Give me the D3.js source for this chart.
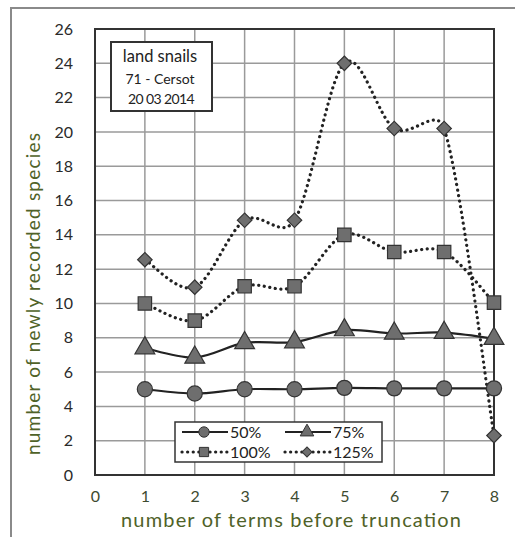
<!DOCTYPE html>
<html><head><meta charset="utf-8">
<script src="https://cdn.jsdelivr.net/npm/d3@7"></script>
<style>
html,body{margin:0;padding:0;background:#fff;}
svg{display:block;font-family:Lato,"Open Sans",sans-serif;}
</style></head>
<body>
<svg id="chart" width="515" height="537"></svg>
<script>
const xValues = [1,2,3,4,5,6,7,8];
const s50  = [5.0, 4.75, 5.0, 5.0, 5.08, 5.05, 5.05, 5.05];
const s75  = [7.4, 6.85, 7.7, 7.75, 8.45, 8.25, 8.3, 7.95];
const s100 = [10.0, 9.0, 11.0, 11.0, 14.0, 13.0, 13.0, 10.05];
const s125 = [12.55, 10.95, 14.85, 14.85, 24.0, 20.2, 20.2, 2.3];
const seriesNames = ["50%","75%","100%","125%"];
const xTicks = [0,1,2,3,4,5,6,7,8];
const yTicks = [0,2,4,6,8,10,12,14,16,18,20,22,24,26];
const noteLines = ["land snails","71 - Cersot","20 03 2014"];

const svg = d3.select("#chart");
const L = 95, R = 494, T = 29, B = 475;
const x = d3.scaleLinear().domain([0,8]).range([L,R]);
const y = d3.scaleLinear().domain([0,26]).range([B,T]);
const green = "#4f6228";

// Excel-style smoothed line built with d3.path from scaled points
function excelSmooth(pts){
  const p = d3.path();
  const dist = (a,b)=>Math.hypot(a[0]-b[0],a[1]-b[1]);
  p.moveTo(pts[0][0],pts[0][1]);
  for(let i=0;i<pts.length-1;i++){
    const p0 = pts[Math.max(i-1,0)], p1 = pts[i], p2 = pts[i+1], p3 = pts[Math.min(i+2,pts.length-1)];
    const d12 = dist(p1,p2), d02 = dist(p0,p2), d13 = dist(p1,p3);
    const f = 1/6;
    let f0 = (d02/6 < d12/2) ? f : d12/d02/2;
    let f1 = (d13/6 < d12/2) ? f : d12/d13/2;
    const c1 = [p1[0]+(p2[0]-p0[0])*f0, p1[1]+(p2[1]-p0[1])*f0];
    const c2 = [p2[0]-(p3[0]-p1[0])*f1, p2[1]-(p3[1]-p1[1])*f1];
    p.bezierCurveTo(c1[0],c1[1],c2[0],c2[1],p2[0],p2[1]);
  }
  return p.toString();
}

// outer frame
svg.append("rect").attr("x",11).attr("y",8).attr("width",520).attr("height",540)
  .attr("fill","none").attr("stroke","#8a8a8a").attr("stroke-width",2);

// grid
const g = svg.append("g");
g.selectAll(".vg").data(xTicks).join("line")
  .attr("x1",d=>x(d)).attr("x2",d=>x(d)).attr("y1",T).attr("y2",B)
  .attr("stroke","#9a9a9a").attr("stroke-width",1.5);
g.selectAll(".hg").data(yTicks).join("line")
  .attr("y1",d=>y(d)).attr("y2",d=>y(d)).attr("x1",L).attr("x2",R)
  .attr("stroke","#9a9a9a").attr("stroke-width",1.5);
svg.append("rect").attr("x",L).attr("y",T).attr("width",R-L).attr("height",B-T)
  .attr("fill","none").attr("stroke","#333").attr("stroke-width",2);

// axes tick labels
const yAxis = d3.axisLeft(y).tickValues(yTicks).tickSize(0).tickPadding(22);
const ya = svg.append("g").attr("transform",`translate(${L},0)`).call(yAxis);
ya.select(".domain").remove();
ya.selectAll("text").attr("font-size",16).attr("fill","#2a2a2a").attr("font-family","Lato,sans-serif");
const xAxis = d3.axisBottom(x).tickValues(xTicks).tickSize(0).tickPadding(16);
const xa = svg.append("g").attr("transform",`translate(0,${B})`).call(xAxis);
xa.select(".domain").remove();
xa.selectAll("text").attr("font-size",16).attr("fill","#3d4a30").attr("font-family","Lato,sans-serif");

// axis titles
svg.append("text").attr("x",291).attr("y",527).attr("text-anchor","middle")
  .attr("font-size",20).attr("fill",green)
  .attr("textLength",340).attr("lengthAdjust","spacing")
  .text("number of terms before truncation");
svg.append("text").attr("transform",`translate(40,294) rotate(-90)`).attr("text-anchor","middle")
  .attr("font-size",19).attr("fill",green)
  .attr("textLength",322).attr("lengthAdjust","spacing")
  .text("number of newly recorded species");

// series
const allSeries = [s50,s75,s100,s125];
const dashed = [false,false,true,true];
const shapes = [d3.symbolCircle, d3.symbolTriangle, d3.symbolSquare, d3.symbolSquare];
const sizes = [180, 170, 180, 105];
const rot = [0,0,0,45];
allSeries.forEach((s,k)=>{
  const pts = s.map((v,i)=>[x(xValues[i]), y(v)]);
  const p = svg.append("path").attr("d",excelSmooth(pts)).attr("fill","none")
    .attr("stroke","#222").attr("stroke-width",2.2);
  if(dashed[k]) p.attr("stroke-dasharray","0.1,5.5").attr("stroke-linecap","round").attr("stroke-width",3.2);
});
allSeries.forEach((s,k)=>{
  svg.append("g").selectAll("path").data(s).join("path")
    .attr("transform",(d,i)=>`translate(${x(xValues[i])},${y(d)}) rotate(${rot[k]})`)
    .attr("d",d3.symbol().type(shapes[k]).size(sizes[k]))
    .attr("fill","#6e6e6e").attr("stroke","#333").attr("stroke-width",1.2);
});

// note box
const nb = svg.append("g");
nb.append("rect").attr("x",111).attr("y",42).attr("width",101).attr("height",69)
  .attr("fill","#fff").attr("stroke","#333").attr("stroke-width",2);
nb.append("text").attr("x",160).attr("y",62).attr("text-anchor","middle").attr("font-size",16.5).attr("fill","#222").text(noteLines[0]);
nb.append("text").attr("x",160).attr("y",84).attr("text-anchor","middle").attr("font-size",14).attr("fill","#222").text(noteLines[1]);
nb.append("text").attr("x",161).attr("y",104).attr("text-anchor","middle").attr("font-size",14).attr("fill","#222")
  .attr("letter-spacing",-0.6).text(noteLines[2]);

// legend
const lg = svg.append("g");
lg.append("rect").attr("x",175).attr("y",422).attr("width",207).attr("height",40)
  .attr("fill","#fff").attr("stroke","#333").attr("stroke-width",1.5);
const lpos = [[182,432],[285,432],[182,452],[285,452]];
const lsizes = [85, 80, 85, 50];
seriesNames.forEach((n,k)=>{
  const [lx,ly] = lpos[k];
  const ln = lg.append("line").attr("x1",lx).attr("x2",lx+46).attr("y1",ly).attr("y2",ly)
    .attr("stroke","#222").attr("stroke-width",2.2);
  if(dashed[k]) ln.attr("stroke-dasharray","0.1,5.5").attr("stroke-linecap","round").attr("stroke-width",3.2);
  lg.append("path").attr("transform",`translate(${lx+22},${ly}) rotate(${rot[k]})`)
    .attr("d",d3.symbol().type(shapes[k]).size(lsizes[k]))
    .attr("fill","#6e6e6e").attr("stroke","#333").attr("stroke-width",1);
  lg.append("text").attr("x",lx+48).attr("y",ly+5.5).attr("font-size",16).attr("fill","#222").text(n);
});
</script>
</body></html>
